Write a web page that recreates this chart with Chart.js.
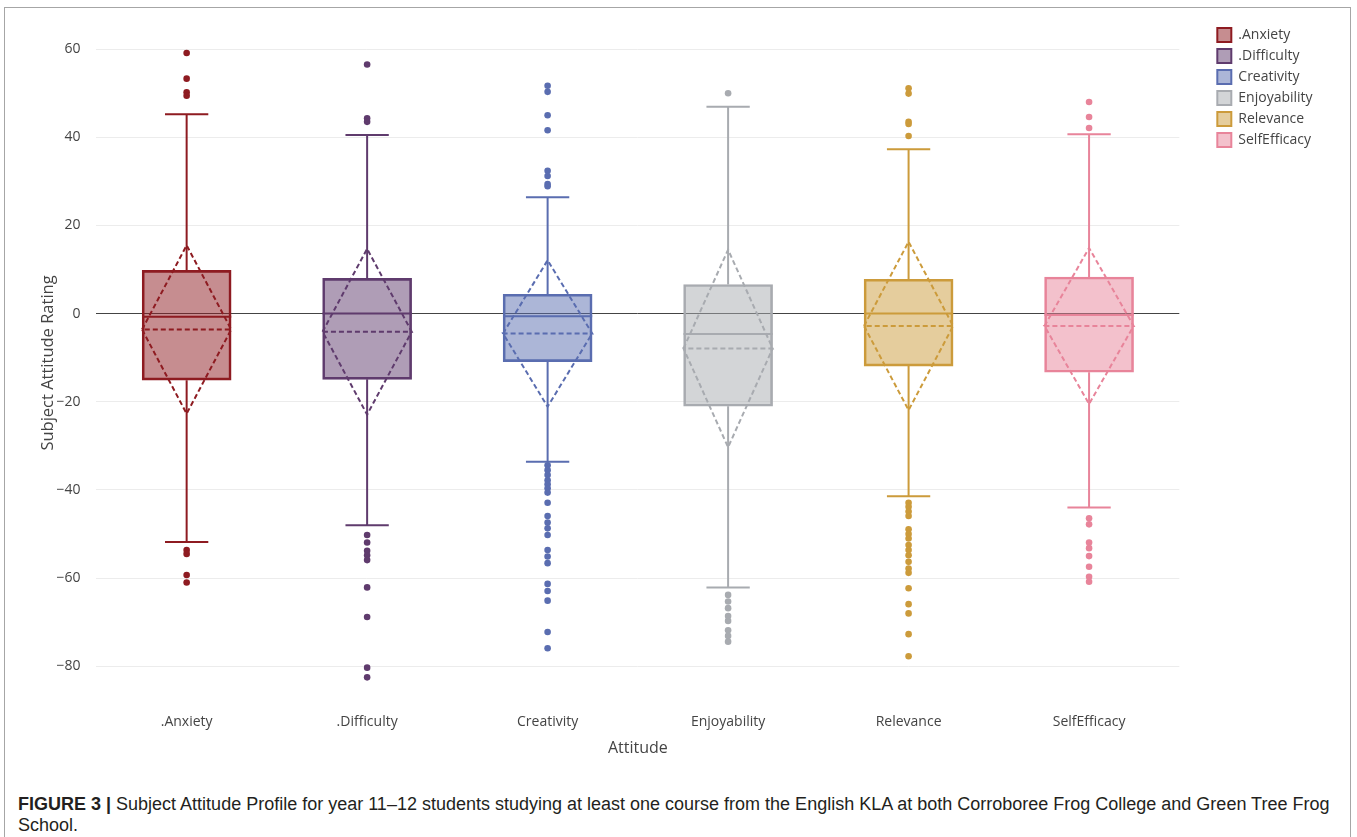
<!DOCTYPE html>
<html lang="en">
<head>
    <meta charset="UTF-8">
    <title>Subject Attitude Profile</title>
    <script src="https://cdn.jsdelivr.net/npm/chart.js"></script>
    <style>
        body {
            margin: 0;
            background: #fff;
            font-family: "Open Sans", sans-serif;
        }
        .frame {
            position: absolute;
            left: 4px;
            top: 7px;
            width: 1347px;
            height: 840px;
            border: 1px solid #a6a6a6;
            box-sizing: border-box;
        }
        .chart-box {
            position: absolute;
            left: 0;
            top: 0;
            width: 1357px;
            height: 770px;
        }
        .caption {
            position: absolute;
            left: 18px;
            top: 794px;
            width: 1335px;
            font-family: "Liberation Sans", Arial, sans-serif;
            font-size: 18px;
            line-height: 21px;
            color: #231f20;
        }
    </style>
</head>
<body>
    <div class="frame"></div>
    <div class="chart-box">
        <canvas id="boxChart"></canvas>
    </div>
    <div class="caption"><b>FIGURE 3 |</b> Subject Attitude Profile for year 11–12 students studying at least one course from the English KLA at both Corroboree Frog College and Green Tree Frog School.</div>

    <script>
        const categories = ['.Anxiety', '.Difficulty', 'Creativity', 'Enjoyability', 'Relevance', 'SelfEfficacy'];
        const lowerFence = [-51.8, -48.0, -33.6, -62.1, -41.4, -44.0];
        const q1 = [-15.1, -14.9, -10.9, -21.0, -11.9, -13.3];
        const median = [-0.7, 0, -0.6, -4.6, 0, -0.3];
        const q3 = [9.8, 8.0, 4.4, 6.6, 7.8, 8.3];
        const upperFence = [45.2, 40.5, 26.4, 46.9, 37.3, 40.7];
        const mean = [-3.6, -4.1, -4.5, -7.9, -2.8, -2.8];
        const sd = [19.1, 18.8, 16.6, 22.4, 19.1, 17.7];
        const outliers = [
            [59.1, 53.3, 50.2, 49.4, -53.6, -54.5, -59.3, -61.0],
            [56.5, 44.3, 43.5, -50.2, -51.9, -53.8, -54.8, -55.9, -62.1, -68.8, -80.3, -82.5],
            [51.7, 50.3, 45.0, 41.6, 32.4, 31.2, 29.4, 28.9, -34.4, -35.5, -36.6, -37.8, -38.7, -39.6, -40.6,
             -42.9, -45.9, -47.4, -48.7, -50.2, -53.6, -55.1, -56.6, -61.3, -62.9, -65.1, -72.2, -75.9],
            [50.0, -63.8, -65.3, -66.8, -68.6, -69.7, -71.8, -73.1, -74.4],
            [51.1, 49.9, 43.5, 43.0, 40.3, -42.9, -43.8, -44.9, -45.9, -48.9, -50.0, -51.0, -52.5, -53.6,
             -54.8, -56.3, -57.8, -58.8, -62.3, -65.9, -68.0, -72.7, -77.7],
            [48.0, 44.6, 42.1, -46.4, -47.8, -51.9, -53.2, -55.0, -57.4, -59.7, -60.8]
        ];
        const yTicks = [-80, -60, -40, -20, 0, 20, 40, 60];

        const lineColors = ['#8e1b21', '#5f3b6d', '#5a6db0', '#a8abb0', '#cc9b3b', '#e8849a'];
        const fillColors = ['rgba(142,27,33,0.5)', 'rgba(95,59,109,0.5)', 'rgba(90,109,176,0.5)',
                            'rgba(168,171,176,0.5)', 'rgba(204,155,59,0.5)', 'rgba(232,132,154,0.5)'];

        const boxHalf = 0.247;   // half box width, in category units
        const capHalf = 0.12;

        const datasets = [];

        // boxes (also give the legend entries)
        categories.forEach((name, i) => {
            datasets.push({
                type: 'bar',
                label: name,
                data: [{ x: i, y: [q1[i], q3[i]] }],
                backgroundColor: fillColors[i],
                borderColor: lineColors[i],
                borderWidth: 2,
                borderSkipped: false,
                barThickness: 89,
                grouped: false,
                order: 3
            });
        });

        // whiskers, caps and median
        categories.forEach((name, i) => {
            const gap = { x: i, y: null };
            datasets.push({
                type: 'line',
                label: name + ' whiskers',
                data: [
                    { x: i, y: q3[i] }, { x: i, y: upperFence[i] }, gap,
                    { x: i - capHalf, y: upperFence[i] }, { x: i + capHalf, y: upperFence[i] }, gap,
                    { x: i, y: q1[i] }, { x: i, y: lowerFence[i] }, gap,
                    { x: i - capHalf, y: lowerFence[i] }, { x: i + capHalf, y: lowerFence[i] }, gap,
                    { x: i - boxHalf, y: median[i] }, { x: i + boxHalf, y: median[i] }
                ],
                borderColor: lineColors[i],
                borderWidth: 2,
                pointRadius: 0,
                spanGaps: false,
                fill: false,
                order: 2
            });
        });

        // mean line and +-sd diamond
        categories.forEach((name, i) => {
            datasets.push({
                type: 'line',
                label: name + ' mean',
                data: [
                    { x: i - boxHalf, y: mean[i] },
                    { x: i, y: mean[i] + sd[i] },
                    { x: i + boxHalf, y: mean[i] },
                    { x: i - boxHalf, y: mean[i] },
                    { x: i, y: mean[i] - sd[i] },
                    { x: i + boxHalf, y: mean[i] }
                ],
                borderColor: lineColors[i],
                borderWidth: 2,
                borderDash: [5, 3],
                pointRadius: 0,
                fill: false,
                order: 1
            });
        });

        // outlier points
        categories.forEach((name, i) => {
            datasets.push({
                type: 'scatter',
                label: name + ' outliers',
                data: outliers[i].map(v => ({ x: i, y: v })),
                backgroundColor: lineColors[i],
                borderWidth: 0,
                pointRadius: 3.3,
                order: 0
            });
        });

        const ctx = document.getElementById('boxChart').getContext('2d');
        const chart = new Chart(ctx, {
            type: 'scatter',
            data: { datasets: datasets },
            options: {
                responsive: true,
                maintainAspectRatio: false,
                animation: false,
                layout: {
                    padding: { left: 34.1, top: 21, right: 34.4, bottom: 0 }
                },
                plugins: {
                    tooltip: { enabled: false },
                    legend: {
                        position: 'right',
                        align: 'start',
                        labels: {
                            boxWidth: 14,
                            boxHeight: 14,
                            padding: 7,
                            color: '#444',
                            font: { family: 'Open Sans', size: 14 },
                            filter: item => categories.includes(item.text)
                        }
                    }
                },
                scales: {
                    x: {
                        type: 'linear',
                        min: -0.5,
                        max: 5.5,
                        offset: false,
                        grid: { display: false, drawTicks: false },
                        border: { display: false },
                        afterBuildTicks: s => { s.ticks = categories.map((c, i) => ({ value: i })); },
                        afterFit: s => { s.height = 68.4; },
                        ticks: {
                            padding: 12,
                            color: '#444',
                            font: { family: 'Open Sans', size: 14 },
                            callback: v => categories[v]
                        },
                        title: {
                            display: true,
                            text: 'Attitude',
                            color: '#444',
                            font: { family: 'Open Sans', size: 16 },
                            padding: { top: 4, bottom: 12 }
                        }
                    },
                    y: {
                        type: 'linear',
                        min: -88,
                        max: 65.6,
                        afterBuildTicks: s => { s.ticks = yTicks.map(v => ({ value: v })); },
                        afterFit: s => { s.width = 62.3; },
                        grid: {
                            drawTicks: false,
                            color: c => c.tick && c.tick.value === 0 ? '#444' : '#ececec',
                            lineWidth: 1
                        },
                        border: { display: false },
                        ticks: {
                            padding: 16,
                            color: '#444',
                            font: { family: 'Open Sans', size: 14 },
                            callback: v => v < 0 ? '\u2212' + Math.abs(v) : String(v)
                        },
                        title: {
                            display: true,
                            text: 'Subject Attitude Rating',
                            color: '#444',
                            font: { family: 'Open Sans', size: 16.5 },
                            padding: { top: 4, bottom: 4 }
                        }
                    },
                    // empty axis, only keeps a gap between plot and legend
                    yGap: {
                        type: 'linear',
                        position: 'right',
                        ticks: { display: false },
                        grid: { display: false, drawTicks: false },
                        border: { display: false },
                        afterFit: s => { s.width = 31; }
                    }
                }
            }
        });
    </script>
</body>
</html>
